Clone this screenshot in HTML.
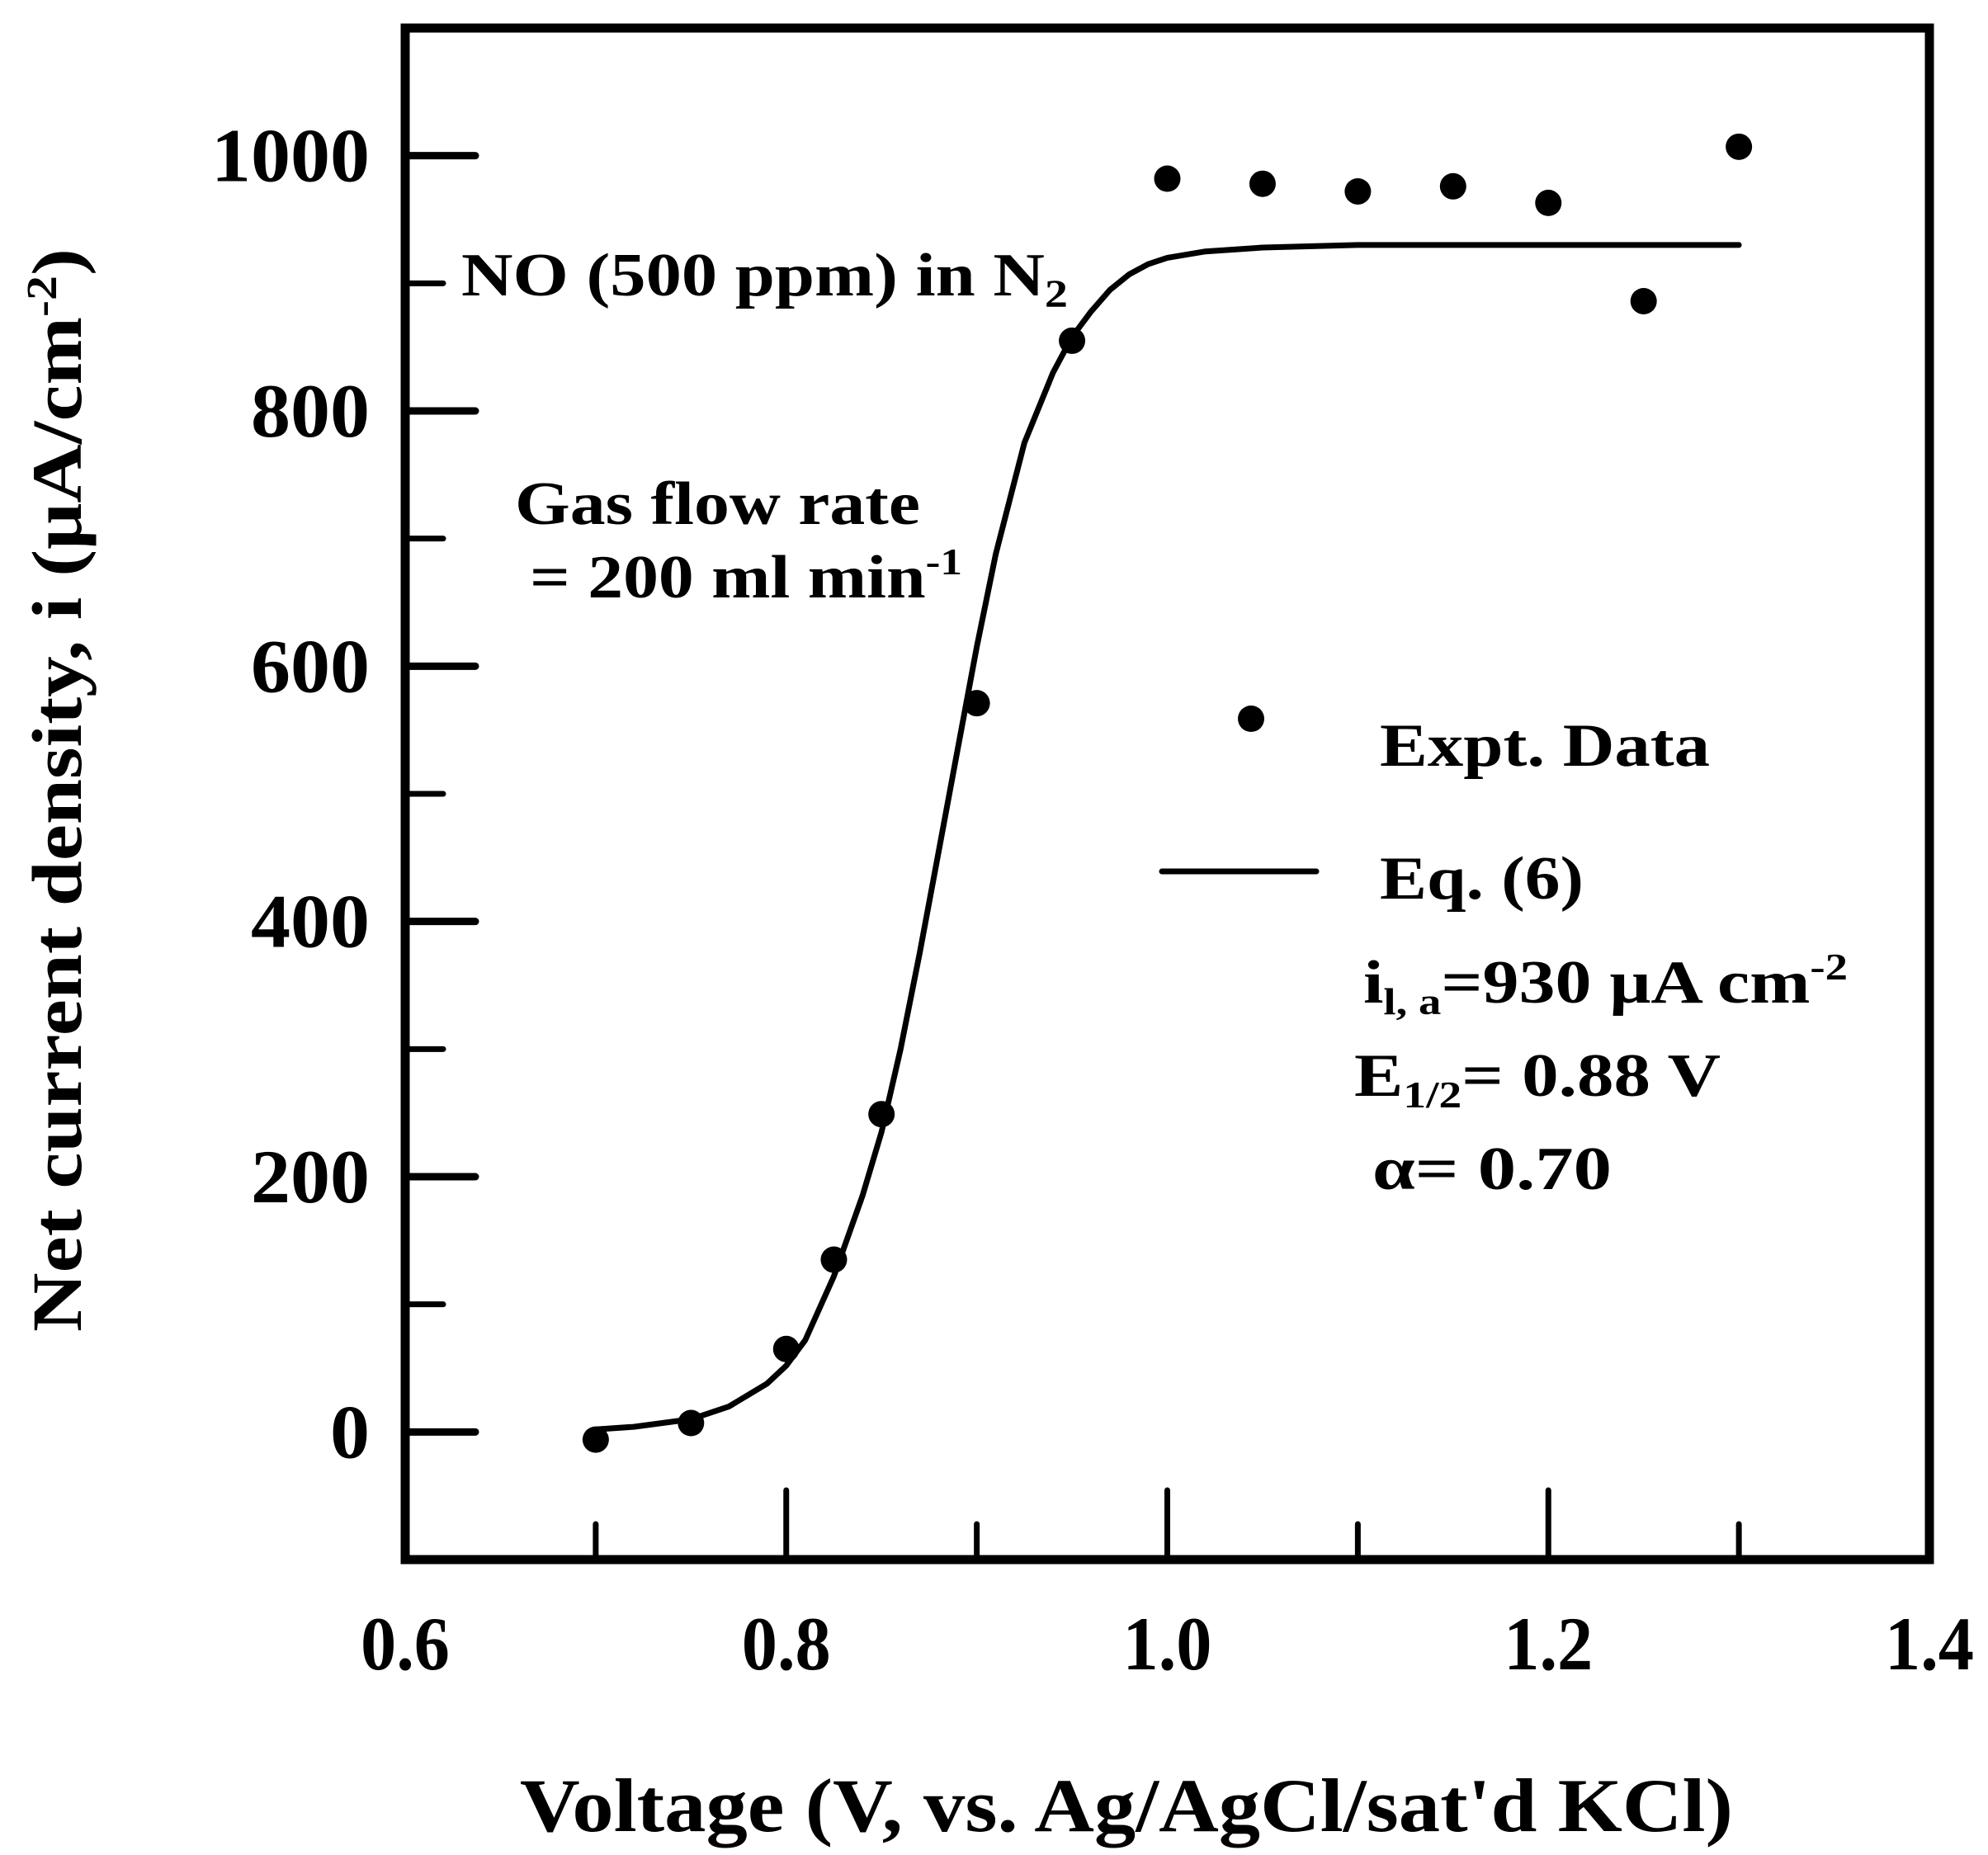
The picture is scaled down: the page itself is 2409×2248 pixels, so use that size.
<!DOCTYPE html>
<html><head><meta charset="utf-8"><style>html,body{margin:0;padding:0;background:#fff}svg{display:block}text{font-family:"Liberation Serif",serif;font-weight:bold;fill:#000}</style></head>
<body>
<svg id="chart" width="2409" height="2248" viewBox="0 0 2409 2248" xmlns="http://www.w3.org/2000/svg">
<g id="plot"></g>
<text x="559" y="358" font-size="74" textLength="735" lengthAdjust="spacingAndGlyphs">NO (500 ppm) in N<tspan font-size="48" dy="14">2</tspan></text>
<text x="624" y="635" font-size="74" textLength="491" lengthAdjust="spacingAndGlyphs">Gas flow rate</text>
<text x="642" y="724" font-size="74" textLength="524" lengthAdjust="spacingAndGlyphs">= 200 ml min<tspan font-size="46" dy="-28">-1</tspan></text>
<circle cx="1516" cy="871" r="16" fill="#000"/>
<text x="1672" y="928" font-size="74" textLength="400" lengthAdjust="spacingAndGlyphs">Expt. Data</text>
<line x1="1408" y1="1056" x2="1595" y2="1056" stroke="#000" stroke-width="7" stroke-linecap="round"/>
<text x="1672" y="1089" font-size="74" textLength="247" lengthAdjust="spacingAndGlyphs">Eq. (6)</text>
<text x="1652" y="1215" font-size="74" textLength="587" lengthAdjust="spacingAndGlyphs">i<tspan font-size="46" dy="14">l, a</tspan><tspan dy="-14">=930 μA cm</tspan><tspan font-size="46" dy="-28">-2</tspan></text>
<text x="1641" y="1328" font-size="74" textLength="444" lengthAdjust="spacingAndGlyphs">E<tspan font-size="46" dy="14">1/2</tspan><tspan dy="-14">= 0.88 V</tspan></text>
<text x="1663" y="1441" font-size="74" textLength="290" lengthAdjust="spacingAndGlyphs">α= 0.70</text>
<text x="630" y="2219" font-size="92" textLength="1470" lengthAdjust="spacingAndGlyphs">Voltage (V, vs. Ag/AgCl/sat'd KCl)</text>
<text transform="translate(98,1614) rotate(-90)" x="0" y="0" font-size="86" textLength="1313" lengthAdjust="spacingAndGlyphs">Net current density, i (μA/cm<tspan font-size="52" dy="-30">-2</tspan><tspan dy="30">)</tspan></text>
</svg>
<script>
const xTickValues = [0.6, 0.8, 1.0, 1.2, 1.4];
const xTickLabels = ["0.6", "0.8", "1.0", "1.2", "1.4"];
const xMinorTicks = [0.7, 0.9, 1.1, 1.3];
const yTickValues = [0, 200, 400, 600, 800, 1000];
const yTickLabels = ["0", "200", "400", "600", "800", "1000"];
const yMinorTicks = [100, 300, 500, 700, 900];
const exptVoltage = [0.70, 0.75, 0.80, 0.825, 0.85, 0.90, 0.95, 1.00, 1.05, 1.10, 1.15, 1.20, 1.25, 1.30];
const exptCurrent = [-6, 7, 65, 135, 249, 571, 855, 982, 978, 972, 976, 963, 886, 1007];
const fitVoltage = [0.70, 0.72, 0.75, 0.77, 0.79, 0.80, 0.81, 0.825, 0.84, 0.85, 0.86, 0.87, 0.88, 0.89, 0.90, 0.91, 0.925, 0.94, 0.95, 0.96, 0.97, 0.98, 0.99, 1.00, 1.02, 1.05, 1.10, 1.20, 1.30];
const fitCurrent = [2, 4, 10, 20, 38, 52, 72, 122, 185, 235, 300, 375, 455, 535, 615, 688, 775, 830, 858, 878, 895, 907, 915, 920, 925, 928, 930, 930, 930];

const L = 491, R = 2338, T = 34, B = 1890;
const xMin = 0.6, xMax = 1.4, yMin = -100, yMax = 1100;
function xs(v) { return L + (v - xMin) / (xMax - xMin) * (R - L); }
function ys(v) { return B - (v - yMin) / (yMax - yMin) * (B - T); }
const NS = "http://www.w3.org/2000/svg";
const plot = document.getElementById('plot');
function mk(tag, attrs) { const e = document.createElementNS(NS, tag); for (const k in attrs) e.setAttribute(k, attrs[k]); plot.appendChild(e); return e; }

const frame = mk('rect', {x: L, y: T, width: R - L, height: B - T, fill: 'none', stroke: '#000', 'stroke-width': 11});



xTickValues.forEach((v, i) => {
  if (v > xMin && v < xMax) {
    const t = mk('line', {x1: xs(v), x2: xs(v), y1: B, y2: 1806, stroke: '#000', 'stroke-width': 7, 'stroke-linecap': 'round'});
    
    
  }
  const lb = mk('text', {x: xs(v), y: 2023, 'font-size': 92, 'text-anchor': 'middle', textLength: 108, lengthAdjust: 'spacingAndGlyphs'});
  lb.textContent = xTickLabels[i];
  
  
});
xMinorTicks.forEach(v => {
  const t = mk('line', {x1: xs(v), x2: xs(v), y1: B, y2: 1847, stroke: '#000', 'stroke-width': 7, 'stroke-linecap': 'round'});
  
  
});
yTickValues.forEach((v, i) => {
  const t = mk('line', {x1: L, x2: 576, y1: ys(v), y2: ys(v), stroke: '#000', 'stroke-width': 9, 'stroke-linecap': 'round'});
  
  
  const lb = mk('text', {x: 448, y: ys(v) + 31, 'font-size': 92, 'text-anchor': 'end', textLength: 48 * yTickLabels[i].length, lengthAdjust: 'spacingAndGlyphs'});
  lb.textContent = yTickLabels[i];
  
  
});
yMinorTicks.forEach(v => {
  const t = mk('line', {x1: L, x2: 537, y1: ys(v), y2: ys(v), stroke: '#000', 'stroke-width': 7, 'stroke-linecap': 'round'});
  
  
});

let d = '';
fitVoltage.forEach((v, i) => { d += (i ? 'L' : 'M') + xs(v).toFixed(1) + ',' + ys(fitCurrent[i]).toFixed(1); });
const fit = mk('path', {d: d, fill: 'none', stroke: '#000', 'stroke-width': 7, 'stroke-linejoin': 'round', 'stroke-linecap': 'round'});



exptVoltage.forEach((v, i) => {
  const c = mk('circle', {cx: xs(v), cy: ys(exptCurrent[i]), r: 16, fill: '#000'});
  
  
});
</script>
</body></html>
